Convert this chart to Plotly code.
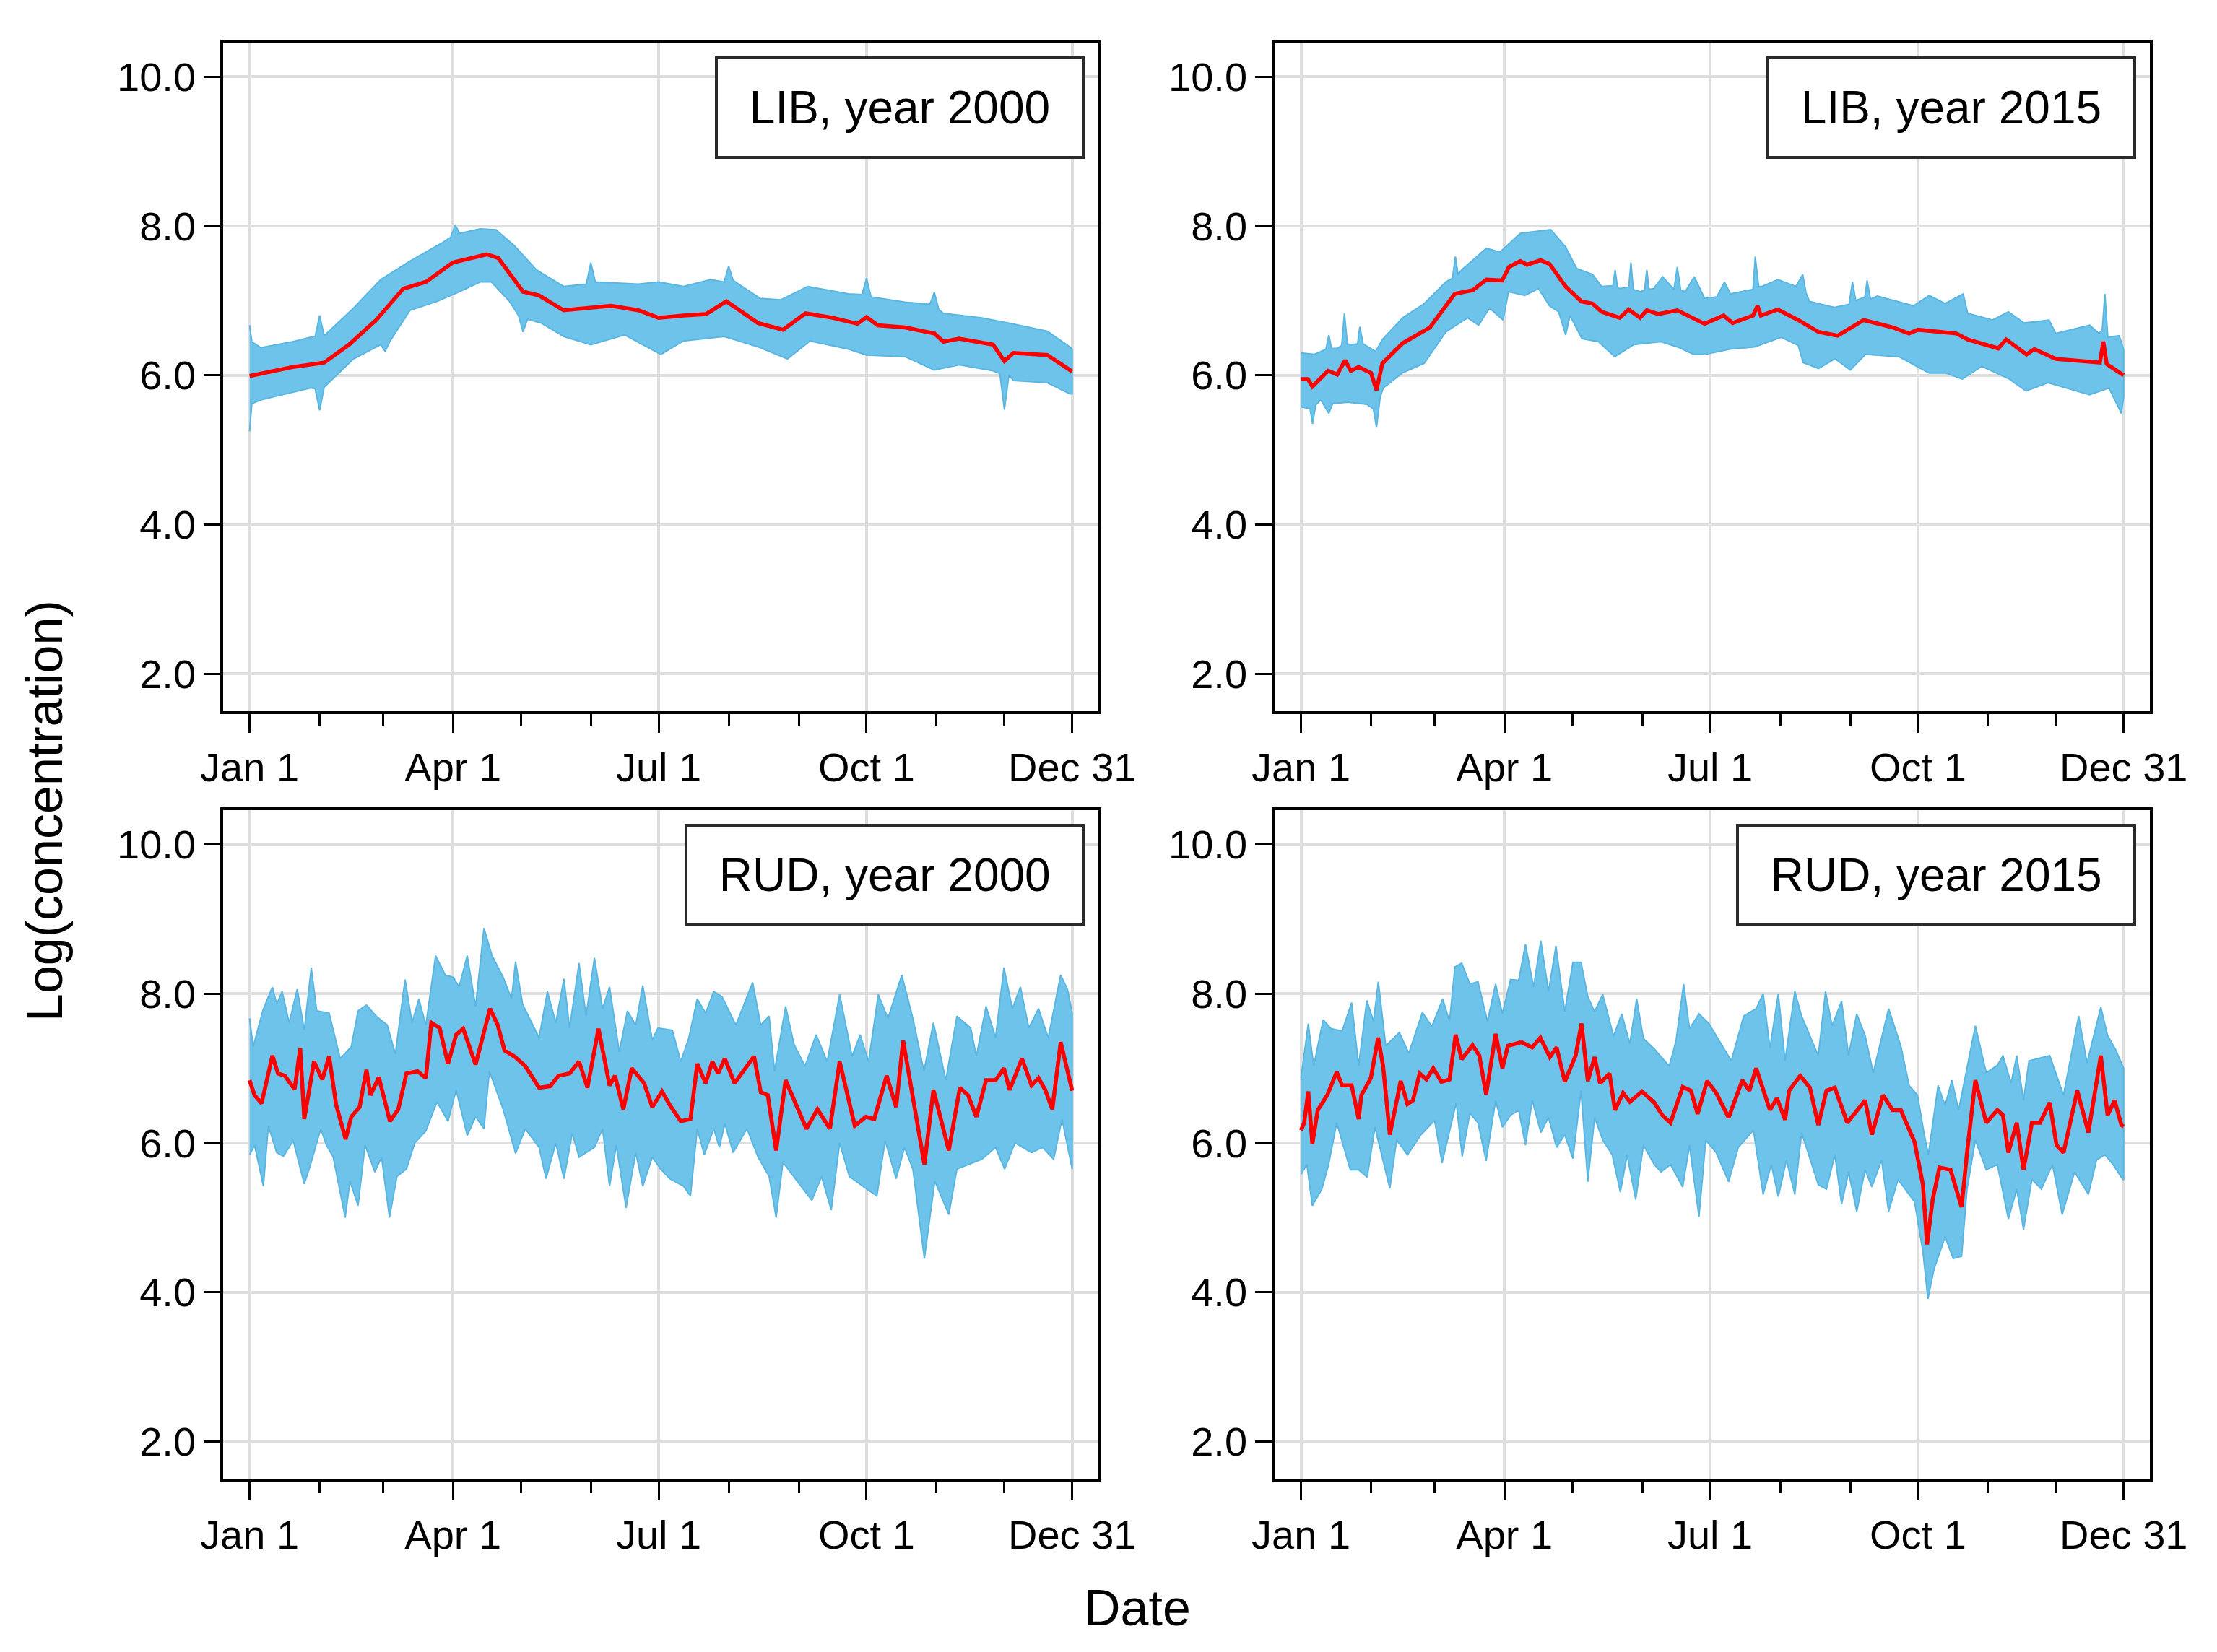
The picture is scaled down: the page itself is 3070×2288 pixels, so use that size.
import plotly.graph_objects as go

# ---------------- data (day of year: Jan 1 = 0, Dec 31 = 364) ----------------
lib2000_med_day = [0, 7, 19, 33, 44, 56, 68, 78, 90, 105, 110, 121, 128, 139, 150, 160, 172, 181, 192, 202,
                   211, 225, 236, 246, 258, 269, 273, 278, 290, 303, 307, 314, 329, 334, 338, 353, 363, 364]
lib2000_med = [5.99, 6.03, 6.11, 6.17, 6.41, 6.74, 7.16, 7.25, 7.51, 7.62, 7.57, 7.12, 7.07, 6.87, 6.90, 6.93, 6.87, 6.77, 6.80, 6.82,
               6.99, 6.70, 6.61, 6.83, 6.77, 6.69, 6.78, 6.67, 6.64, 6.56, 6.45, 6.49, 6.41, 6.19, 6.30, 6.27, 6.07, 6.05]
lib2000_up_day = [0, 1, 5, 19, 27, 29, 31, 33, 46, 58, 71, 85, 89, 91, 93, 102, 109, 117, 127, 139,
                  149, 151, 153, 172, 181, 192, 204, 210, 212, 214, 226, 235, 247, 265, 271, 273, 275, 290, 301, 303,
                  305, 307, 324, 336, 353, 363, 364]
lib2000_up = [6.67, 6.45, 6.37, 6.45, 6.51, 6.52, 6.80, 6.53, 6.90, 7.28, 7.53, 7.77, 7.85, 8.01, 7.90, 7.96, 7.95, 7.74, 7.41, 7.19,
              7.22, 7.51, 7.25, 7.22, 7.25, 7.19, 7.28, 7.25, 7.46, 7.27, 7.03, 7.01, 7.19, 7.09, 7.08, 7.30, 7.05, 6.98, 6.95, 7.11,
              6.88, 6.83, 6.77, 6.70, 6.59, 6.38, 6.35]
lib2000_lo_day = [0, 1, 5, 19, 27, 29, 31, 33, 35, 46, 58, 60, 62, 71, 83, 93, 102, 107, 115, 119,
                  121, 123, 129, 139, 151, 166, 182, 192, 210, 225, 238, 248, 265, 273, 290, 303, 314, 329, 332, 334,
                  336, 338, 353, 363, 364]
lib2000_lo = [5.25, 5.62, 5.67, 5.77, 5.83, 5.82, 5.53, 5.84, 5.90, 6.22, 6.41, 6.32, 6.45, 6.87, 6.99, 7.12, 7.25, 7.25, 6.99, 6.80,
              6.58, 6.75, 6.70, 6.52, 6.41, 6.54, 6.28, 6.46, 6.52, 6.38, 6.22, 6.46, 6.35, 6.27, 6.25, 6.07, 6.14, 6.06, 6.02, 5.54,
              6.00, 5.93, 5.90, 5.75, 5.75]

lib2015_med_day = [0, 3, 5, 12, 16, 19.5, 22, 25.5, 31, 33.4, 36, 45, 57, 64, 68, 76, 82, 89, 92, 97,
                   100, 106, 110, 117, 124, 129, 133, 141, 145, 150, 153, 158, 166.5, 172.5, 178.6, 187, 191, 200, 202, 203.5,
                   211, 220, 229, 237.5, 249, 262, 269, 273, 282, 290, 295, 308.5, 312, 321, 324.5, 334, 353.5, 355, 356.5, 364]
lib2015_med = [5.95, 5.95, 5.85, 6.06, 6.01, 6.20, 6.06, 6.11, 6.03, 5.80, 6.16, 6.43, 6.64, 6.93, 7.09, 7.14, 7.28, 7.27, 7.45, 7.53,
               7.48, 7.54, 7.49, 7.19, 6.99, 6.96, 6.85, 6.77, 6.88, 6.77, 6.87, 6.82, 6.87, 6.78, 6.69, 6.80, 6.70, 6.80, 6.93, 6.80,
               6.88, 6.74, 6.58, 6.53, 6.74, 6.64, 6.56, 6.61, 6.59, 6.56, 6.48, 6.36, 6.48, 6.28, 6.35, 6.22, 6.17, 6.45, 6.15, 6.00]
lib2015_up_day = [0, 6, 11, 12.3, 13.5, 16, 18, 19.2, 20.5, 22, 25, 26, 27.5, 33, 36, 45, 54.5, 64, 67, 68.3,
                  69.5, 71, 82, 88, 97, 110.5, 117, 122, 129, 133, 138, 139, 140, 141, 145, 146, 147, 150, 152, 153,
                  154, 156, 160, 165, 166.5, 168, 170, 174, 178.6, 184, 187.4, 190, 200, 201, 202.5, 204, 211, 219, 222, 223.5,
                  225, 236, 242.5, 244, 245.5, 249.5, 250.5, 252, 255, 271, 278, 285, 293, 295, 306, 313, 320, 331, 334, 349,
                  353, 354.5, 355.7, 357, 362, 364]
lib2015_up = [6.30, 6.28, 6.35, 6.54, 6.36, 6.36, 6.40, 6.83, 6.42, 6.41, 6.42, 6.65, 6.42, 6.32, 6.48, 6.77, 6.96, 7.25, 7.30, 7.59,
              7.35, 7.41, 7.70, 7.65, 7.90, 7.95, 7.72, 7.43, 7.35, 7.19, 7.20, 7.41, 7.18, 7.16, 7.18, 7.51, 7.15, 7.12, 7.14, 7.41,
              7.15, 7.16, 7.32, 7.15, 7.45, 7.14, 7.12, 7.32, 7.03, 7.05, 7.25, 7.09, 7.15, 7.59, 7.19, 7.19, 7.28, 7.19, 7.35, 7.10,
              6.99, 6.91, 6.95, 7.25, 7.00, 7.05, 7.27, 7.02, 7.06, 6.93, 7.07, 6.96, 7.09, 6.83, 6.74, 6.85, 6.70, 6.74, 6.56, 6.67,
              6.56, 6.60, 7.09, 6.51, 6.53, 6.35]
lib2015_lo_day = [0, 4, 5.1, 6.5, 8.7, 12.3, 14, 20.7, 29.2, 32, 33.4, 35, 36.4, 44.8, 54.5, 64.1, 73.7, 78.6, 83.4, 89.4,
                  91.8, 99, 105.1, 109.9, 114, 117.1, 119, 124.3, 131.6, 138.8, 147.2, 159.3, 166.5, 173.7, 178.8, 189.8, 200.8, 212.5, 220, 222.2,
                  229, 236.3, 243.1, 249.8, 264.5, 277.9, 285.3, 292.6, 301.2, 313.4, 320.8, 330.6, 348.9, 357.5, 363, 364]
lib2015_lo = [5.58, 5.55, 5.35, 5.60, 5.67, 5.49, 5.62, 5.64, 5.61, 5.55, 5.30, 5.70, 5.83, 6.03, 6.16, 6.58, 6.77, 6.67, 6.90, 6.74,
              7.12, 7.07, 7.16, 6.93, 6.85, 6.54, 6.80, 6.49, 6.45, 6.25, 6.41, 6.45, 6.38, 6.28, 6.28, 6.35, 6.38, 6.51, 6.40, 6.17,
              6.09, 6.22, 6.07, 6.28, 6.25, 6.03, 6.03, 5.95, 6.12, 5.95, 5.79, 5.90, 5.74, 5.83, 5.49, 5.71]

rud2000_med_day = [0, 2.2, 5.3, 10.1, 12.6, 15.6, 19.9, 22.4, 24.2, 28.5, 32.2, 35.2, 38.3, 42.5, 45, 48.7, 51.7, 53.5, 57.2, 62.1,
                   65.8, 69.4, 74.3, 78, 80.4, 84.1, 87.8, 91.4, 94.5, 100, 106.4, 109.8, 112.8, 117.1, 122, 128.1, 133, 136.7, 141.6, 145.8,
                   149.5, 154.4, 159.3, 161.7, 165.4, 169.1, 174.6, 178.2, 182.5, 185.9, 190.8, 195.1, 198.1, 201.8, 204.8, 207.3, 210.3, 214.6, 223.2, 226.2,
                   229.3, 233, 237.2, 240.9, 246.4, 251.3, 256.8, 261.1, 267.8, 272.7, 276.4, 281.9, 286.1, 289.2, 293.5, 298.6, 302.6, 309.4, 314.3, 317.9,
                   321.6, 325.9, 330.1, 333.8, 336.3, 341.8, 346, 349.1, 352.1, 355.2, 358.9, 361.9, 364]
rud2000_med = [6.84, 6.64, 6.53, 7.17, 6.93, 6.90, 6.72, 7.27, 6.32, 7.09, 6.85, 7.16, 6.51, 6.05, 6.35, 6.48, 6.98, 6.64, 6.88, 6.29,
               6.45, 6.93, 6.96, 6.87, 7.61, 7.54, 7.06, 7.45, 7.53, 7.05, 7.80, 7.58, 7.24, 7.16, 7.03, 6.74, 6.76, 6.90, 6.93, 7.09,
               6.74, 7.53, 6.77, 6.90, 6.45, 7.00, 6.80, 6.48, 6.69, 6.51, 6.29, 6.32, 7.06, 6.80, 7.09, 6.93, 7.13, 6.80, 7.16, 6.68,
               6.64, 5.90, 6.84, 6.58, 6.19, 6.45, 6.19, 7.09, 6.23, 6.35, 6.32, 6.90, 6.48, 7.37, 6.64, 5.71, 6.71, 5.90, 6.74, 6.64,
               6.35, 6.84, 6.84, 7.00, 6.71, 7.13, 6.77, 6.87, 6.71, 6.45, 7.35, 6.96, 6.70]
rud2000_up_day = [0, 1.6, 5.9, 10.1, 12, 14.4, 17.5, 21.1, 24.2, 27.3, 29.7, 35.2, 40.1, 45, 48, 51.7, 56, 60.9, 64.5, 68.8,
                  71.9, 74.9, 78, 82.3, 86.6, 90.2, 92.7, 96.3, 100, 103.7, 107.3, 112.2, 115.9, 117.7, 120.8, 128.1, 131.8, 135.5, 139.1, 141.6,
                  145.8, 148.9, 152.6, 156.2, 159.3, 163.6, 167.2, 170.9, 174, 178.2, 180.7, 187.1, 190.8, 194.4, 198.1, 201.8, 205.4, 209.1, 215.2, 222.6,
                  226.2, 229.9, 232.3, 237.2, 240.9, 245.8, 250.7, 255.6, 261.1, 266.6, 270.2, 273.9, 278.2, 282.5, 288.6, 293.5, 298.4, 302.6, 308.1, 313,
                  319.1, 321.6, 325.9, 330.1, 333.8, 337.5, 341.1, 344.8, 349.1, 353.4, 358.9, 361.9, 364]
rud2000_up = [7.67, 7.29, 7.78, 8.09, 7.86, 8.03, 7.61, 8.06, 7.51, 8.35, 7.77, 7.74, 7.13, 7.29, 7.77, 7.85, 7.70, 7.58, 7.19, 8.19,
              7.61, 7.93, 7.58, 8.51, 8.25, 8.22, 8.09, 8.51, 7.83, 8.88, 8.51, 8.22, 7.93, 8.43, 7.86, 7.41, 8.03, 7.61, 8.20, 7.54,
              8.41, 7.70, 8.48, 7.80, 8.09, 7.22, 7.77, 7.58, 8.11, 7.38, 7.54, 7.51, 7.09, 7.41, 7.93, 7.74, 8.03, 7.96, 7.58, 8.15,
              7.58, 7.70, 6.96, 7.83, 7.32, 7.03, 7.45, 7.09, 7.99, 7.16, 7.45, 7.09, 7.99, 7.67, 8.25, 7.67, 6.96, 7.61, 6.84, 7.70,
              7.54, 7.16, 7.83, 7.41, 8.35, 7.80, 8.09, 7.54, 7.80, 7.41, 8.25, 8.06, 7.74]
rud2000_lo_day = [0, 2.2, 6.1, 8.3, 12, 15, 19.3, 24.2, 26.7, 31.5, 34, 37, 42.3, 44.4, 48, 51.1, 55.4, 58.4, 61.9, 65.2,
                  69.4, 73.1, 78, 82.9, 87.8, 91.4, 96.3, 100, 103.7, 106.1, 112.2, 117.7, 122, 128.1, 131.2, 135.5, 139.1, 142.8, 145.8, 152.6,
                  156.2, 159.3, 162.3, 166.6, 170.9, 174, 178.2, 181.9, 185.9, 192, 195.1, 198.1, 201.2, 205.4, 207.9, 210.3, 214, 220.1, 225, 229.9,
                  233, 236, 240.9, 248.8, 253.1, 257.4, 261.1, 265.4, 272.7, 277.6, 281.2, 286.1, 289.8, 293.5, 298.6, 303.2, 309.4, 313, 324, 330.1,
                  334.1, 338.7, 346, 350.9, 355.8, 359.5, 364]
rud2000_lo = [5.84, 5.97, 5.42, 6.23, 5.87, 5.82, 6.03, 5.45, 5.68, 6.19, 5.97, 5.81, 5.00, 5.49, 5.16, 5.97, 5.61, 5.81, 5.00, 5.55,
              5.65, 6.00, 6.16, 6.55, 6.29, 6.71, 6.10, 6.35, 6.19, 6.96, 6.45, 5.86, 6.19, 5.94, 5.52, 6.00, 5.52, 6.13, 5.81, 5.94,
              6.19, 5.42, 5.97, 5.13, 5.87, 5.42, 5.81, 5.65, 5.52, 5.42, 5.29, 6.19, 5.84, 6.19, 5.94, 6.26, 5.87, 6.19, 5.81, 5.55,
              5.00, 5.74, 5.55, 5.23, 5.55, 5.10, 6.00, 5.55, 5.39, 5.29, 6.03, 5.52, 5.94, 5.65, 4.45, 5.49, 5.04, 5.65, 5.78, 5.94,
              5.65, 6.00, 5.87, 5.94, 5.78, 6.32, 5.65]

rud2015_med_day = [0, 1.4, 3.2, 5, 7.4, 11.6, 15.8, 18.2, 22.4, 25.5, 26.7, 30.9, 34.1, 36.3, 39.3, 44.1, 47.1, 49.5, 52.5, 55.5,
                   58.5, 62.1, 65.7, 68.4, 71.1, 75.9, 78.9, 81.9, 86.1, 89.1, 91.5, 97.5, 102.3, 105.9, 110.1, 113.1, 116.7, 121.5, 124.1, 126.9,
                   129.9, 132.3, 136.5, 138.9, 142.5, 145.5, 150.9, 156.3, 159.9, 163.5, 168.9, 172.5, 175.5, 179.7, 183.7, 189.2, 195.3, 198.4, 201.4, 207.5,
                   210.6, 214.2, 216, 220.9, 225.2, 228.9, 232.5, 236.2, 241.7, 245.3, 249.6, 252.6, 257.5, 261.8, 265.4, 271.5, 275.2, 277, 279.5, 282.5,
                   287.4, 292.3, 294.7, 298.4, 303.2, 308.1, 310.6, 313, 316.7, 319.7, 323.4, 327, 331.3, 334.3, 337.4, 343.5, 348.4, 353.9, 356.9, 360,
                   363, 364]
rud2015_med = [6.17, 6.27, 6.69, 5.99, 6.44, 6.64, 6.95, 6.77, 6.77, 6.32, 6.64, 6.87, 7.41, 7.03, 6.11, 6.83, 6.52, 6.57, 6.93, 6.85,
               7.00, 6.82, 6.85, 7.45, 7.12, 7.31, 7.17, 6.65, 7.46, 7.00, 7.30, 7.35, 7.28, 7.41, 7.15, 7.28, 6.82, 7.17, 7.60, 6.83,
               7.15, 6.80, 6.93, 6.44, 6.67, 6.55, 6.69, 6.54, 6.37, 6.27, 6.75, 6.70, 6.39, 6.83, 6.67, 6.34, 6.84, 6.70, 7.00, 6.44,
               6.60, 6.31, 6.70, 6.90, 6.74, 6.24, 6.70, 6.74, 6.27, 6.41, 6.57, 6.11, 6.64, 6.44, 6.44, 6.01, 5.44, 4.64, 5.24, 5.67,
               5.64, 5.14, 5.87, 6.84, 6.27, 6.44, 6.37, 5.87, 6.27, 5.64, 6.27, 6.27, 6.54, 5.97, 5.87, 6.70, 6.14, 7.17, 6.37, 6.57,
               6.24, 6.22]
rud2015_up_day = [0, 3.2, 5.6, 9.8, 13.4, 18.2, 22.4, 25.5, 29.1, 32.1, 34.2, 37.5, 43.5, 47.7, 53.7, 57.9, 62.7, 65.7, 68.1, 71.1,
                  74.7, 78.3, 82.5, 86.1, 89.1, 92.7, 96.3, 99.3, 102.9, 106.1, 109.5, 112.8, 116.7, 120.3, 123.9, 126.9, 129.9, 133.5, 138.3, 141.9,
                  145.5, 148.5, 151.5, 156.3, 162.9, 165.9, 169.3, 171.9, 176.1, 180.5, 190.4, 195.9, 201.4, 204.5, 207.5, 211.2, 214.2, 218.5, 221.5, 228.9,
                  232.1, 235, 239.2, 242.3, 245.9, 249.6, 253.2, 260, 265.4, 269.1, 272.8, 275.8, 277.6, 281.9, 285, 288, 291, 294.1, 298.4, 303.2,
                  308.1, 310.6, 314.2, 316.7, 319.7, 322.1, 331.3, 337.4, 344.1, 347.8, 353.9, 356.9, 360.6, 364]
rud2015_up = [6.87, 7.60, 7.03, 7.65, 7.53, 7.50, 7.88, 7.03, 7.91, 7.63, 8.16, 7.30, 7.48, 7.20, 7.75, 7.56, 7.93, 7.63, 8.36, 8.41,
              8.13, 8.16, 7.63, 8.13, 7.73, 8.19, 8.18, 8.66, 8.09, 8.71, 8.03, 8.64, 7.76, 8.42, 8.42, 7.96, 7.76, 7.99, 7.43, 7.73,
              7.33, 7.93, 7.40, 7.26, 7.03, 7.36, 8.13, 7.53, 7.73, 7.60, 7.10, 7.70, 7.80, 8.00, 7.27, 8.00, 7.10, 8.03, 7.70, 7.17,
              8.03, 7.57, 7.90, 7.17, 7.73, 7.44, 6.94, 7.80, 7.30, 6.77, 6.64, 6.11, 5.84, 6.77, 6.50, 6.84, 6.44, 6.90, 7.57, 6.94,
              7.04, 7.17, 6.80, 7.17, 6.57, 7.10, 7.17, 6.64, 7.70, 7.07, 7.82, 7.44, 7.24, 7.00]
rud2015_lo_day = [0, 2.6, 5, 9.2, 12.2, 15.8, 18.2, 21.8, 25.5, 29.3, 32.7, 39.3, 42.3, 47.1, 53.1, 59.1, 62.4, 65.7, 68.7, 71.3,
                  74.7, 78.3, 81.9, 86.1, 89.1, 92.7, 96.3, 99.3, 102.3, 106.1, 109.5, 113.1, 116.7, 120.3, 123.9, 126.9, 129.9, 133.5, 137.7, 141.3,
                  144.3, 148.1, 151.5, 156.3, 159.3, 163.5, 168.9, 171.9, 176.1, 179.1, 183.7, 189.2, 193.5, 200.2, 204.5, 208.1, 211.2, 214.8, 218.5, 221.5,
                  228.9, 232.5, 236.2, 239.2, 242.3, 245.9, 249.6, 252.6, 256.9, 260, 264.2, 271.5, 275.2, 277.4, 280.1, 285, 288.6, 292.3, 294.7, 298.4,
                  303.2, 308.1, 313, 316.7, 319.7, 323.4, 327.6, 332.5, 336.8, 342.3, 348.4, 352, 355.7, 359.3, 363.6, 364]
rud2015_lo = [5.58, 5.71, 5.16, 5.38, 5.71, 6.27, 6.01, 5.64, 5.64, 5.54, 6.21, 5.39, 6.04, 5.84, 6.11, 6.30, 5.73, 6.14, 6.54, 5.82,
              6.40, 6.27, 5.76, 6.57, 6.21, 6.37, 6.44, 5.97, 6.57, 6.14, 6.34, 5.94, 6.11, 5.79, 6.70, 5.48, 6.34, 6.04, 5.84, 5.34,
              5.84, 5.24, 5.97, 5.71, 5.61, 5.71, 5.41, 5.97, 5.01, 6.04, 5.87, 5.48, 5.94, 6.17, 5.31, 5.71, 5.28, 5.77, 5.31, 6.14,
              5.44, 5.38, 5.84, 5.18, 5.61, 5.08, 5.64, 5.41, 5.77, 5.08, 5.51, 5.21, 4.54, 3.91, 4.31, 4.74, 4.45, 4.48, 5.38, 6.04,
              5.64, 5.71, 4.98, 5.38, 4.84, 5.51, 5.38, 5.71, 5.04, 5.61, 5.31, 5.77, 5.84, 5.71, 5.51, 5.51]

panel_labels = ["LIB, year 2000", "LIB, year 2015", "RUD, year 2000", "RUD, year 2015"]
tick_days = [0, 90, 181, 273, 364]
tick_labels = ["Jan 1", "Apr 1", "Jul 1", "Oct 1", "Dec 31"]
month_days = [31, 59, 120, 151, 212, 243, 304, 334]
y_ticks = [2, 4, 6, 8, 10]
x_title = "Date"
y_title = "Log(concentration)"

panels = [
    (lib2000_med_day, lib2000_med, lib2000_up_day, lib2000_up, lib2000_lo_day, lib2000_lo),
    (lib2015_med_day, lib2015_med, lib2015_up_day, lib2015_up, lib2015_lo_day, lib2015_lo),
    (rud2000_med_day, rud2000_med, rud2000_up_day, rud2000_up, rud2000_lo_day, rud2000_lo),
    (rud2015_med_day, rud2015_med, rud2015_up_day, rud2015_up, rud2015_lo_day, rud2015_lo),
]

# ---------------- styling ----------------
W, H = 3070, 2288
OFF = 8  # page margin of the html body
FONT = "Liberation Sans, Arial, sans-serif"
BAND = "#6DC3EA"
BAND_EDGE = "#5AB6E1"
RED = "#FF0000"
GRID = "#DEDEDE"
col_px = [(309 - OFF, 1521 - OFF), (1765 - OFF, 2977 - OFF)]
row_px = [(58.6 - OFF, 985 - OFF), (1122 - OFF, 2048 - OFF)]

fig = go.Figure()
for i, (md, mv, ud, uv, ld, lv) in enumerate(panels):
    n = i + 1
    xs = "x" if n == 1 else f"x{n}"
    ys = "y" if n == 1 else f"y{n}"
    fig.add_trace(go.Scatter(
        x=list(ud) + list(ld)[::-1], y=list(uv) + list(lv)[::-1],
        fill="toself", fillcolor=BAND, mode="lines",
        line=dict(color=BAND_EDGE, width=2),
        xaxis=xs, yaxis=ys, hoverinfo="skip", showlegend=False))
    fig.add_trace(go.Scatter(
        x=md, y=mv, mode="lines", line=dict(color=RED, width=5.5),
        xaxis=xs, yaxis=ys, showlegend=False))

    r, c = divmod(i, 2)
    x0, x1 = col_px[c]
    y0, y1 = row_px[r]
    suffix = "" if n == 1 else str(n)
    fig.layout["xaxis" + suffix] = dict(
        domain=[x0 / W, x1 / W], range=[-11.7, 375.6], anchor=ys, automargin=False,
        tickmode="array", tickvals=tick_days, ticktext=tick_labels,
        ticks="outside", ticklen=26, tickwidth=3, tickcolor="black",
        showgrid=True, gridcolor=GRID, gridwidth=4,
        showline=True, mirror=True, linecolor="black", linewidth=3.5,
        zeroline=False, tickfont=dict(family=FONT, size=56, color="black"),
        minor=dict(tickmode="array", tickvals=month_days, ticks="outside",
                   ticklen=16, tickwidth=3, tickcolor="black", showgrid=False),
    )
    fig.layout["yaxis" + suffix] = dict(
        domain=[1 - y1 / H, 1 - y0 / H], range=[1.5, 10.46], anchor=xs, automargin=False,
        tickmode="array", tickvals=y_ticks, tickformat=".1f",
        ticks="outside", ticklen=23, tickwidth=3, tickcolor="black",
        showgrid=True, gridcolor=GRID, gridwidth=4,
        showline=True, mirror=True, linecolor="black", linewidth=3.5,
        zeroline=False, tickfont=dict(family=FONT, size=56, color="black"),
    )
    fig.add_annotation(
        xref=f"{xs} domain", yref=f"{ys} domain", x=0.9843, y=0.979,
        xanchor="right", yanchor="top", showarrow=False,
        text="\u00a0" + panel_labels[i] + "\u00a0",
        font=dict(family=FONT, size=64, color="black"),
        bgcolor="white", bordercolor="#2A2A2A", borderwidth=4, borderpad=26,
        height=82,
    )

fig.add_annotation(xref="paper", yref="paper", x=(1575 - OFF) / W, y=1 - (2227 - OFF) / H,
                   xanchor="center", yanchor="middle", showarrow=False,
                   text=x_title, font=dict(family=FONT, size=70, color="black"))
fig.add_annotation(xref="paper", yref="paper", x=(62 - OFF) / W, y=1 - (1123 - OFF) / H,
                   xanchor="center", yanchor="middle", showarrow=False, textangle=-90,
                   text=y_title, font=dict(family=FONT, size=70, color="black"))

fig.update_layout(
    width=W, height=H, margin=dict(l=0, r=0, t=0, b=0, pad=0, autoexpand=False),
    paper_bgcolor="white", plot_bgcolor="white", showlegend=False,
    font=dict(family=FONT, color="black"),
)

fig.write_html("out.html")
